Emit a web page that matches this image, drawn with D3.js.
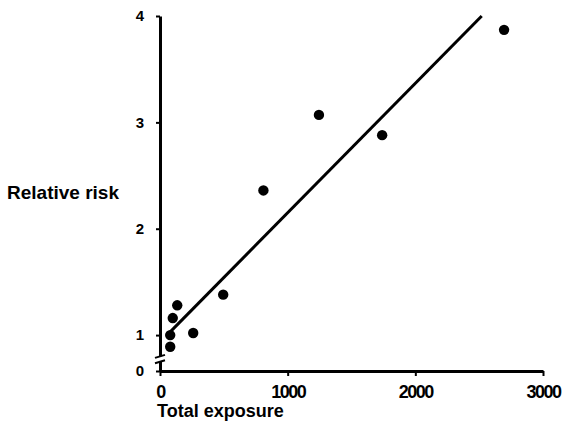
<!DOCTYPE html>
<html>
<head>
<meta charset="utf-8">
<script src="https://cdn.jsdelivr.net/npm/d3@7"></script>
<style>
  body { margin: 0; background: #fff; }
  svg text { font-family: "Liberation Sans", Arial, sans-serif; font-weight: bold; fill: #000; }
</style>
</head>
<body>
<div id="chart"></div>
<script>
// exposure vs relative risk
var exposure = [80, 80, 100, 135, 260, 495, 810, 1245, 1740, 2695];
var risk     = [0.89, 1.0, 1.16, 1.28, 1.02, 1.38, 2.36, 3.07, 2.88, 3.87];

// fitted line ends
var fitX = [80, 2520];
var fitY = [1.03, 4.0];

var xTicks = [0, 1000, 2000, 3000];
var yTicks = [0, 1, 2, 3, 4];
var breakVals = [0.75, 0.8];

var width = 564, height = 421;

var svg = d3.select("#chart").append("svg")
    .attr("width", width)
    .attr("height", height);

var x = d3.scaleLinear().domain([0, 3000]).range([160, 543]);
// y axis is broken between 0 and 1
var y = d3.scaleLinear().domain([0, 0.7, 4]).range([371, 367, 16]);

var xAxis = d3.axisBottom(x).tickValues(xTicks).tickFormat(d3.format("d"))
    .tickSize(5).tickSizeOuter(0).tickPadding(9);
var yAxis = d3.axisLeft(y).tickValues(yTicks).tickFormat(d3.format("d"))
    .tickSize(4).tickSizeOuter(0).tickPadding(12);

var gx = svg.append("g")
    .attr("transform", "translate(0," + y(0) + ")")
    .call(xAxis);
gx.select(".domain").attr("stroke-width", 3);
gx.selectAll(".tick line").attr("stroke-width", 2);
gx.selectAll(".tick text")
    .style("font-size", "18px")
    .style("letter-spacing", "-1.5px");

var gy = svg.append("g")
    .attr("transform", "translate(" + x(0) + ",0)")
    .call(yAxis);
gy.select(".domain").attr("stroke-width", 3);
gy.selectAll(".tick line").attr("stroke-width", 2);
gy.selectAll(".tick text").style("font-size", "15px");

// axis break marks
svg.append("rect")
    .attr("x", x(0) - 3)
    .attr("y", y(breakVals[1]))
    .attr("width", 6)
    .attr("height", y(breakVals[0]) - y(breakVals[1]))
    .attr("fill", "#fff");
svg.selectAll(".brk")
    .data(breakVals)
  .enter().append("line")
    .attr("class", "brk")
    .attr("x1", x(0) - 5)
    .attr("x2", x(0) + 5)
    .attr("y1", d => y(d) + 1.5)
    .attr("y2", d => y(d) - 1.5)
    .attr("stroke", "#000")
    .attr("stroke-width", 2);

// fitted line
var line = d3.line()
    .x(d => x(d[0]))
    .y(d => y(d[1]));

svg.append("path")
    .datum(d3.zip(fitX, fitY))
    .attr("fill", "none")
    .attr("stroke", "#000")
    .attr("stroke-width", 3)
    .attr("d", line);

// points
svg.selectAll(".dot")
    .data(d3.zip(exposure, risk))
  .enter().append("circle")
    .attr("class", "dot")
    .attr("cx", d => x(d[0]))
    .attr("cy", d => y(d[1]))
    .attr("r", 5.2)
    .attr("fill", "#000");

// axis titles
svg.append("text")
    .attr("x", 7)
    .attr("y", 199)
    .style("font-size", "19px")
    .text("Relative risk");

svg.append("text")
    .attr("x", 157)
    .attr("y", 417)
    .style("font-size", "18px")
    .text("Total exposure");
</script>
</body>
</html>
